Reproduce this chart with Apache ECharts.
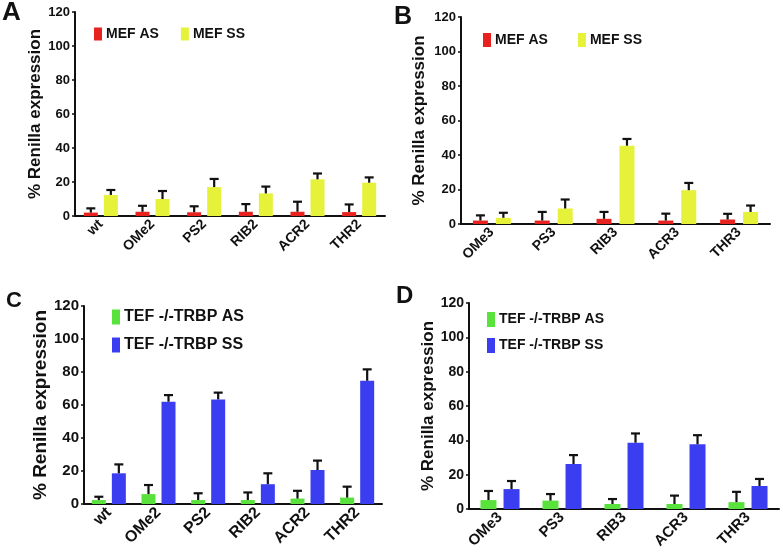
<!DOCTYPE html>
<html>
<head>
<meta charset="utf-8">
<script src="https://cdn.jsdelivr.net/npm/echarts@6/dist/echarts.min.js"></script>
<style>html,body{margin:0;padding:0;background:#fff;}#c{width:783px;height:557px;}</style>
</head>
<body>
<div id="c"></div>
<script>
// ---------- data ----------
const categories2 = ['wt', 'OMe2', 'PS2', 'RIB2', 'ACR2', 'THR2'];
const categories3 = ['OMe3', 'PS3', 'RIB3', 'ACR3', 'THR3'];
const yTicks = [0, 20, 40, 60, 80, 100, 120];

// Panel A (MEF, series 2)
const mefAS_A = [2, 2.5, 2.2, 2.5, 2.5, 2.3];
const mefAS_A_sd = [2.5, 3.5, 3.5, 4.5, 5.9, 4.5];
const mefSS_A = [12.4, 10, 17, 13.3, 21.6, 19.6];
const mefSS_A_sd = [2.9, 4.7, 4.8, 4, 3.4, 3.1];

// Panel B (MEF, series 3)
const mefAS_B = [2, 2, 3, 2, 2.6];
const mefAS_B_sd = [3, 5, 4, 4, 3.3];
const mefSS_B = [3.6, 9, 45.4, 19.6, 7];
const mefSS_B_sd = [2.9, 5.2, 3.9, 4.2, 3.7];

// Panel C (TEF -/-TRBP, series 2)
const tefAS_C = [2.4, 6, 2.4, 2.4, 3.3, 3.9];
const tefAS_C_sd = [2, 5.5, 4.1, 4.6, 4.7, 6.6];
const tefSS_C = [18.6, 62, 63.4, 12, 20.6, 74.7];
const tefSS_C_sd = [5.4, 4, 4.1, 6.6, 5.7, 6.9];

// Panel D (TEF -/-TRBP, series 3)
const tefAS_D = [5.2, 4.9, 2.9, 2.9, 4];
const tefAS_D_sd = [5.3, 3.8, 2.9, 4.9, 6];
const tefSS_D = [11.6, 26.2, 38.6, 37.7, 13.4];
const tefSS_D_sd = [4.7, 5.2, 5.4, 5.3, 4.1];

const nameMefAS = 'MEF AS', nameMefSS = 'MEF SS';
const nameTefAS = 'TEF -/-TRBP AS', nameTefSS = 'TEF -/-TRBP SS';

// ---------- styling ----------
const FONT = '"Liberation Sans", Arial, sans-serif';
const RED = '#e8221e', YELLOW = '#e6f23a', GREEN = '#5ae23c', BLUE = '#3b3ef0';

const panels = [
  { letter: 'A', letterPos: {left: 2, top: 0, size: 26}, grid: {left: 75, right: 398, top: 12, bottom: 341},
    cats: categories2, s: [[nameMefAS, mefAS_A, mefAS_A_sd, RED], [nameMefSS, mefSS_A, mefSS_A_sd, YELLOW]],
    barW: 14, gap: 0.43, tick: 13, cat: 14, yname: 17, nameGap: 31,
    legend: {left: 94, top: 27, orient: 'horizontal', itemGap: 22, itemH: 13, font: 14} },
  { letter: 'B', letterPos: {left: 394, top: 5, size: 25}, grid: {left: 461, right: 13, top: 17, bottom: 333},
    cats: categories3, s: [[nameMefAS, mefAS_B, mefAS_B_sd, RED], [nameMefSS, mefSS_B, mefSS_B_sd, YELLOW]],
    barW: 15, gap: 0.53, tick: 13, cat: 14, yname: 17, nameGap: 33,
    legend: {left: 483, top: 33, orient: 'horizontal', itemGap: 30, itemH: 14, font: 14} },
  { letter: 'C', letterPos: {left: 6, top: 290, size: 22}, grid: {left: 84, right: 401, top: 306, bottom: 53},
    cats: categories2, s: [[nameTefAS, tefAS_C, tefAS_C_sd, GREEN], [nameTefSS, tefSS_C, tefSS_C_sd, BLUE]],
    barW: 14, gap: 0.43, tick: 15, cat: 16, yname: 19, nameGap: 33,
    legend: {left: 112, top: 309, orient: 'vertical', itemGap: 12, itemH: 15, font: 16} },
  { letter: 'D', letterPos: {left: 396, top: 284, size: 24}, grid: {left: 469, right: 4, top: 303, bottom: 48},
    cats: categories3, s: [[nameTefAS, tefAS_D, tefAS_D_sd, GREEN], [nameTefSS, tefSS_D, tefSS_D_sd, BLUE]],
    barW: 16, gap: 0.44, tick: 14, cat: 15, yname: 17, nameGap: 30,
    legend: {left: 487, top: 312, orient: 'vertical', itemGap: 11, itemH: 15, font: 14} }
];

const option = {
  animation: false,
  backgroundColor: '#fff',
  title: [], grid: [], xAxis: [], yAxis: [], legend: [], series: []
};

panels.forEach((p, i) => {
  option.title.push({ text: p.letter, left: p.letterPos.left, top: p.letterPos.top, padding: 0,
    textStyle: { fontFamily: FONT, fontWeight: 'bold', fontSize: p.letterPos.size, color: '#111' } });
  option.grid.push(Object.assign({ containLabel: false }, p.grid));
  option.xAxis.push({
    type: 'category', gridIndex: i, data: p.cats, boundaryGap: true,
    axisLine: { lineStyle: { color: '#111', width: 2 } },
    axisTick: { alignWithLabel: true, length: 3, lineStyle: { color: '#111', width: 1.5 } },
    axisLabel: { rotate: 45, margin: 6, interval: 0, fontFamily: FONT, fontWeight: 'bold', fontSize: p.cat, color: '#111' }
  });
  option.yAxis.push({
    type: 'value', gridIndex: i, min: 0, max: 120, interval: 20,
    name: '% Renilla expression', nameLocation: 'middle', nameGap: p.nameGap,
    nameTextStyle: { fontFamily: FONT, fontWeight: 'bold', fontSize: p.yname, color: '#111' },
    splitLine: { show: false },
    axisLine: { show: true, lineStyle: { color: '#111', width: 2 } },
    axisTick: { show: true, length: 3, lineStyle: { color: '#111', width: 1.5 } },
    axisLabel: { margin: 5, fontFamily: FONT, fontWeight: 'bold', fontSize: p.tick, color: '#111',
      formatter: v => yTicks.indexOf(v) >= 0 ? String(v) : '' }
  });
  option.legend.push({
    left: p.legend.left, top: p.legend.top, orient: p.legend.orient, padding: 0,
    itemGap: p.legend.itemGap, itemWidth: 8, itemHeight: p.legend.itemH, icon: 'rect',
    selectedMode: false,
    data: [p.s[0][0], p.s[1][0]],
    textStyle: { fontFamily: FONT, fontWeight: 'bold', fontSize: p.legend.font, color: '#111', padding: [0, 0, 0, -1] }
  });
  const offs = [-(p.barW * (1 + p.gap)) / 2, (p.barW * (1 + p.gap)) / 2];
  p.s.forEach((s, k) => {
    option.series.push({
      type: 'bar', name: s[0], xAxisIndex: i, yAxisIndex: i, data: s[1],
      barWidth: p.barW, barGap: Math.round(p.gap * 100) + '%',
      itemStyle: { color: s[3] }
    });
  });
  p.s.forEach((s, k) => {
    const off = offs[k];
    option.series.push({
      type: 'custom', name: s[0] + ' err', xAxisIndex: i, yAxisIndex: i, z: 5,
      data: s[1].map((v, j) => [j, v, v + s[2][j]]),
      renderItem: function (params, api) {
        const a = api.coord([api.value(0), api.value(1)]);
        const b = api.coord([api.value(0), api.value(2)]);
        const x = a[0] + off;
        const cap = 4.5;
        return { type: 'group', children: [
          { type: 'line', shape: { x1: x, y1: a[1], x2: x, y2: b[1] }, style: { stroke: '#111', lineWidth: 2.2 } },
          { type: 'line', shape: { x1: x - cap, y1: b[1], x2: x + cap, y2: b[1] }, style: { stroke: '#111', lineWidth: 2.2 } }
        ]};
      },
      tooltip: { show: false }
    });
  });
});

const chart = echarts.init(document.getElementById('c'), null, { renderer: 'canvas' });
chart.setOption(option);
</script>
</body>
</html>
